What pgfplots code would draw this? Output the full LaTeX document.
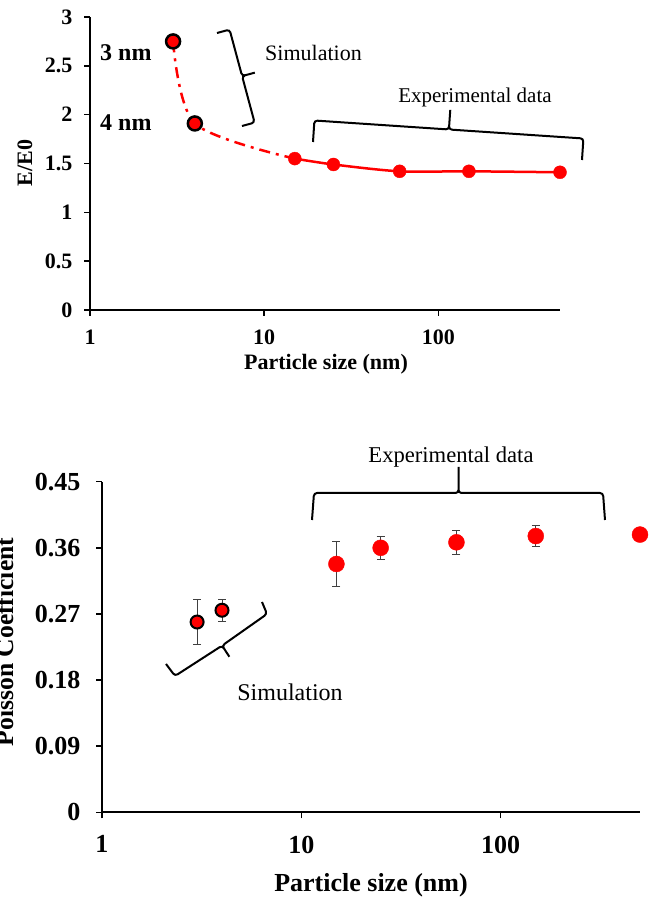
\documentclass[border=0pt]{standalone}
\usepackage{fontspec}
\setmainfont{Liberation Serif}
\usepackage{pgfplots}
\pgfplotsset{compat=1.18}
\begin{document}
\begin{tikzpicture}[x=1pt,y=1pt]
% ---------- top chart ----------
\begin{axis}[
  at={(90pt,590pt)}, anchor=south west,
  scale only axis, width=470pt, height=293pt,
  xmode=log, xmin=1, xmax=500, ymin=0, ymax=3,
  axis lines=left, axis line style={-, line width=1.8pt},
  clip=false, xminorticks=false,
  xtick={1,10,100}, xticklabels={1,10,100},
  ytick={0,0.5,1,1.5,2,2.5,3}, yticklabels={0,0.5,1,1.5,2,2.5,3},
  tick align=outside, major tick length=6pt,
  tick style={line width=1.5pt, black},
  tick label style={font=\fontsize{22}{22}\selectfont\bfseries},
  yticklabel style={xshift=-8pt},
  xticklabel style={yshift=-10pt},
]
\addplot[red, line width=2.5pt, dash pattern=on 11pt off 6pt on 3pt off 6pt, smooth, tension=0.5] coordinates {(3,2.75)(4,1.91)(15,1.55)};
\addplot[red, line width=2.5pt, smooth] coordinates {(15,1.55)(25,1.49)(60,1.42)(150,1.42)(500,1.41)};
\addplot[only marks, mark=*, mark size=6.5pt, mark options={fill=red, draw=red}] coordinates {(15,1.55)(25,1.49)(60,1.42)(150,1.42)(500,1.41)};
\addplot[only marks, mark=*, mark size=7pt, mark options={fill=red, draw=black, line width=2.5pt}] coordinates {(3,2.75)(4,1.91)};
\end{axis}
% ---------- bottom chart ----------
\begin{axis}[
  at={(102pt,87.7pt)}, anchor=south west,
  scale only axis, width=538pt, height=330.6pt,
  xmode=log, xmin=1, xmax=500, ymin=0, ymax=0.45,
  axis lines=left, axis line style={-, line width=1.8pt},
  clip=false, xminorticks=false,
  xtick={1,10,100}, xticklabels={1,10,100},
  ytick={0,0.09,0.18,0.27,0.36,0.45}, yticklabels={0,0.09,0.18,0.27,0.36,0.45},
  tick align=outside, major tick length=6pt,
  tick style={line width=1.5pt, black},
  tick label style={font=\fontsize{26}{26}\selectfont\bfseries},
  yticklabel style={xshift=-12pt},
  xticklabel style={yshift=-14pt},
]
\addplot[only marks, mark=none, error bars/.cd, y dir=both, y explicit,
  error bar style={black!75, line width=1pt},
  error mark options={rotate=90, mark size=4pt, line width=1pt, black!75}]
  coordinates {(3,0.259) +- (0,0.030) (4,0.275) +- (0,0.015) (15,0.338) +- (0,0.030)
               (25,0.360) +- (0,0.0155) (60,0.3675) +- (0,0.0165) (150,0.376) +- (0,0.0145)};
\addplot[only marks, mark=*, mark size=8pt, mark options={fill=red, draw=red}] coordinates {(15,0.338)(25,0.360)(60,0.3675)(150,0.376)(500,0.378)};
\addplot[only marks, mark=*, mark size=6.5pt, mark options={fill=red, draw=black, line width=2pt}] coordinates {(3,0.259)(4,0.275)};
\end{axis}
% ---------- labels and annotations ----------
\node[font=\fontsize{22}{22}\selectfont\bfseries] at (326,536) {Particle size (nm)};
\node[font=\fontsize{22}{22}\selectfont\bfseries, rotate=90, anchor=base] at (32,737) {E/E0};
\node[font=\fontsize{26}{26}\selectfont\bfseries] at (371,15) {Particle size (nm)};
\node[font=\fontsize{25.6}{26}\selectfont\bfseries, rotate=90, anchor=base] at (13,258) {Poisson Coefficient};

\node[font=\fontsize{24}{24}\selectfont\bfseries, anchor=west, inner sep=0pt] at (100,847) {3 nm};
\node[font=\fontsize{24}{24}\selectfont\bfseries, anchor=west, inner sep=0pt] at (100,777) {4 nm};
\node[font=\fontsize{22}{22}\selectfont, anchor=west, inner sep=0pt] at (265,847) {Simulation};
\node[font=\fontsize{21}{21}\selectfont, inner sep=0pt] at (475,803) {Experimental data};
% brackets
\draw[line width=2pt, rounded corners=3pt] (217,867) -- (229.6,870.4) -- (242.1,823.9) -- (256.5,827.8) -- (242.1,823.9) -- (254.6,777.4) -- (242,774);
\draw[line width=2pt, rounded corners=3pt] (313,758) -- (314.4,779.5) -- (448.9,770.5) -- (450.4,791.9) -- (448.9,770.5) -- (583.4,761.5) -- (582,740);

\node[font=\fontsize{22.6}{23}\selectfont, inner sep=0pt] at (451,443) {Experimental data};
\node[font=\fontsize{24}{24}\selectfont, inner sep=0pt] at (290,208) {Simulation};
\draw[line width=2pt, rounded corners=3pt] (312,380) -- (314,407) -- (458.5,407) -- (458.5,435) -- (458.5,407) -- (603,407) -- (605,380);
\draw[line width=2pt, rounded corners=3pt] (166,236) -- (175,224) -- (222.1,254.4) -- (230.3,241.8) -- (222.1,254.4) -- (267,286) -- (262,298);

\pgfresetboundingbox
\useasboundingbox (0,0) rectangle (656,900);
\end{tikzpicture}
\end{document}
